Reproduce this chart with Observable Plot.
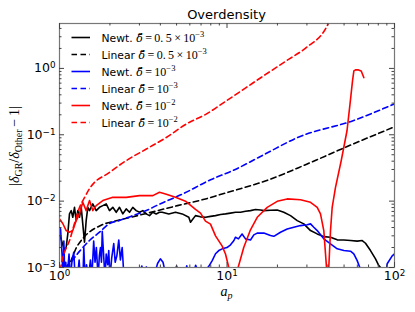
<!DOCTYPE html>
<html><head><meta charset="utf-8">
<script src="https://cdn.jsdelivr.net/npm/d3@7"></script>
<script src="https://cdn.jsdelivr.net/npm/@observablehq/plot@0.6"></script>
<style>body{margin:0;background:#fff} svg{display:block}</style>
</head><body><div id="chart"></div>
<script>
// ---- data ----
const newtBlackA = [1.000,1.024,1.071,1.096,1.121,1.147,1.175,1.200,1.229,1.258,1.286,1.316,1.348,1.377,1.410,1.443,1.476,1.511,1.580,1.656,1.733,1.814,1.900,1.989,2.081,2.181,2.282,2.388,2.502,2.618,2.739,2.870,3.004,3.144,3.293,3.445,3.606,3.778,3.954,4.104,4.494,4.926,5.401,5.915,6.055,6.485,6.948,7.440,7.973,8.539,9.147,9.795,10.49,11.24,12.04,12.90,13.81,14.80,15.85,16.59,18.18,19.94,21.83,23.94,26.25,28.74,31.52,34.56,37.84,41.49,45.50,49.82,54.62,59.89,64.16,67.13,71.90,77.02,80.60,82.49,84.5,86];
const newtBlackY = [3.2e-3,2.65e-3,1.8e-3,2.02e-3,3.21e-3,6.42e-3,7.2e-3,5.71e-3,8.07e-3,5.09e-3,7.2e-3,5.71e-3,8.07e-3,4.54e-3,2.4e-3,5.09e-3,8.07e-3,7.2e-3,9.08e-3,7.2e-3,8.07e-3,8.56e-3,9.08e-3,7.2e-3,8.07e-3,6.79e-3,8.07e-3,6.42e-3,7.63e-3,6.79e-3,8.07e-3,7.2e-3,6.79e-3,7.2e-3,6.42e-3,6.05e-3,6.79e-3,6.42e-3,6.79e-3,6.79e-3,6.42e-3,6.79e-3,6.42e-3,5.71e-3,4.8e-3,6.05e-3,5.8e-3,5.71e-3,5.9e-3,6.05e-3,6.3e-3,6.42e-3,6.6e-3,6.79e-3,6.79e-3,7.03e-3,7.2e-3,7.5e-3,7.37e-3,7.2e-3,7.3e-3,7.37e-3,6.79e-3,6.05e-3,5.09e-3,4.54e-3,3.6e-3,3.21e-3,2.92e-3,2.86e-3,2.61e-3,2.6e-3,2.55e-3,2.5e-3,2.55e-3,2.32e-3,1.8e-3,1.35e-3,1.07e-3,1.0e-3,9e-4,8e-4];

const linBlackA = [1.07,1.10,1.16,1.25,1.40,1.76,2.22,2.92,3.85,5.06,7.44,9.35,11.3,17.1,29.9,50,100];
const linBlackY = [7e-4,1.0e-3,1.2e-3,1.9e-3,2.86e-3,4.3e-3,5.1e-3,6.05e-3,7.2e-3,8.55e-3,0.0108,0.0128,0.0147,0.0203,0.036,0.0635,0.132];

const newtBlueA = [1.000,1.015,1.035,1.05,1.062,1.075,1.09,1.11,1.14,1.16,1.19,1.217,1.24,1.28,1.31,1.33,1.38,1.397,1.42,1.45,1.49,1.53,1.56,1.60,1.63,1.66,1.70,1.73,1.756,1.78,1.80,1.838,1.87,1.90,1.94,1.968,2.00,2.05,2.108,2.15,2.20,2.259,2.31,2.367,2.42,2.6,3.0,3.1,3.2,3.3,3.4,3.7,3.85,4.0,4.15,4.3,4.8,5.0,5.2,5.6,5.75,5.9,6.3,6.5,6.7,7.44,7.8,8.16,8.54,8.93,9.36,10.0,10.5,11.0,11.24,11.7,12.3,12.9,13.81,14.46,15.15,16.59,18.18,19.03,20.86,22.88,25.05,27.47,30.11,31.52,32.98,34.56,37.84,41.49,45.50,49.82,54.62,57.15,59.89,62.06,63.5,88,90.46,96.9,100];
const newtBlueY = [4.0e-3,3.8e-3,1.6e-3,7e-4,2.5e-3,7e-4,1.2e-3,7e-4,1.6e-3,7e-4,1.3e-3,1.7e-3,7e-4,7e-4,1.3e-3,7e-4,7e-4,2.0e-3,7e-4,1.1e-3,7e-4,1.3e-3,7e-4,2.5e-3,1.2e-3,2.0e-3,7e-4,1.5e-3,2.0e-3,1.2e-3,3.5e-3,1.4e-3,7e-4,1.6e-3,1.1e-3,1.8e-3,7e-4,1.4e-3,2.3e-3,1.2e-3,1.5e-3,2.6e-3,1.3e-3,2.0e-3,8e-4,7e-4,8e-4,1.05e-3,8e-4,1.02e-3,8e-4,8e-4,1.15e-3,1.35e-3,1.2e-3,8e-4,8e-4,1.05e-3,8e-4,8e-4,1.06e-3,8e-4,8e-4,1.08e-3,9e-4,9e-4,1.05e-3,1.27e-3,1.61e-3,1.8e-3,1.91e-3,2.0e-3,2.2e-3,2.55e-3,2.86e-3,2.7e-3,3.2e-3,2.7e-3,2.6e-3,3.1e-3,3.3e-3,3.3e-3,3.03e-3,2.95e-3,3.4e-3,3.8e-3,4.04e-3,4.28e-3,4.4e-3,4.54e-3,4.04e-3,3.6e-3,2.7e-3,2.27e-3,1.91e-3,1.8e-3,1.76e-3,1.61e-3,1.27e-3,1.0e-3,7e-4,7e-4,1.14e-3,1.5e-3,1.6e-3];

const linBlueA = [1.07,1.12,1.20,1.316,1.51,1.733,1.99,2.28,2.73,3.3,3.79,5.5,7.98,10.8,16.9,26.4,56.5,100];
const linBlueY = [7e-4,1.0e-3,1.3e-3,1.75e-3,2.55e-3,3.4e-3,4.6e-3,5.1e-3,6.05e-3,7.2e-3,8.56e-3,0.013,0.021,0.0288,0.0513,0.091,0.163,0.292];

const newtRedA = [1.000,1.046,1.096,1.147,1.200,1.258,1.316,1.377,1.443,1.511,1.580,1.656,1.814,2.081,2.502,3.004,3.606,3.954,4.295,4.926,5.652,6.485,6.95,7.440,7.97,8.539,9.362,9.795,10.25,10.8,11.3,11.65,12.6,13.81,15.15,17.38,19.94,22.88,27.47,31.52,34.56,36.15,37.84,39.26,39.8,40.53,41.49,42.46,44.44,48.06,52.05,54.24,56.15,57.2,58.5,60.96,63.27,65.57];
const newtRedY = [5.4e-3,4.6e-3,3.6e-3,3.4e-3,3.6e-3,5.09e-3,6.42e-3,9.6e-3,7.2e-3,0.0102,7.2e-3,8.56e-3,0.0102,0.0114,0.0114,0.0121,0.0121,0.0136,0.0128,0.0114,0.0100,7.5e-3,6.6e-3,5.0e-3,4.5e-3,3.0e-3,2.1e-3,1.6e-3,1.0e-3,5e-4,5e-4,1.0e-3,2.02e-3,3.7e-3,5.71e-3,8.07e-3,9.93e-3,0.0108,0.0105,9.59e-3,8.07e-3,6.42e-3,3.6e-3,1.01e-3,5e-4,1.01e-3,3.6e-3,8.07e-3,0.0161,0.0406,0.115,0.290,0.649,0.916,0.95,0.95,0.916,0.728];

const linRedA = [1.01,1.03,1.07,1.148,1.229,1.316,1.41,1.51,1.99,2.5,3.3,4.34,5.71,7.51,9.9,13.0,17.1,22.6,29.7,39.1,41.5];
const linRedY = [9e-4,1.19e-3,1.68e-3,2.55e-3,4.6e-3,8.0e-3,0.0113,0.0154,0.0271,0.0407,0.061,0.091,0.145,0.205,0.324,0.514,0.818,1.30,2.06,4.11,5.6];

// tick positions and labels
const xMajor = [1, 10, 100];
const xMinor = [2,3,4,5,6,7,8,9,20,30,40,50,60,70,80,90];
const yMajor = [1e-3, 1e-2, 1e-1, 1];
const yMinor = [2e-3,3e-3,4e-3,5e-3,6e-3,7e-3,8e-3,9e-3,2e-2,3e-2,4e-2,5e-2,6e-2,7e-2,8e-2,9e-2,0.2,0.3,0.4,0.5,0.6,0.7,0.8,0.9,2,3,4];
const xTickLabels = ["10^0","10^1","10^2"];
const yTickLabels = ["10^\u22123","10^\u22122","10^\u22121","10^0"];

const legendPrefix = ["Newt.","Linear","Newt.","Linear","Newt.","Linear"];
const legendValue = ["0.\u20095\u2009\u00d7\u200910","0.\u20095\u2009\u00d7\u200910","10","10","10","10"];
const legendExp = ["\u22123","\u22123","\u22123","\u22123","\u22122","\u22122"];

// ---- build ----
const series = [
  {a:newtBlackA, v:newtBlackY, color:"#000000", dash:null, curve:"linear"},
  {a:linBlackA,  v:linBlackY,  color:"#000000", dash:"5.5,3.5", curve:"monotone-x"},
  {a:newtBlueA,  v:newtBlueY,  color:"#0000ff", dash:null, curve:"linear"},
  {a:linBlueA,   v:linBlueY,   color:"#0000ff", dash:"5.5,3.5", curve:"monotone-x"},
  {a:newtRedA,   v:newtRedY,   color:"#ff0000", dash:null, curve:"linear"},
  {a:linRedA,    v:linRedY,    color:"#ff0000", dash:"5.5,3.5", curve:"monotone-x"}
];

const W = 415, H = 312, mL = 59, mR = 21, mT = 23, mB = 45;
const fw = W - mL - mR, fh = H - mT - mB;
const majorLen = 5, minorLen = 2.5;
const tickColor = "#444";

const lineMarks = series.map(s => Plot.line(s.a.map((a, i) => ({a, v: s.v[i]})), {
  x: "a", y: "v", stroke: s.color, strokeWidth: 1.6,
  strokeDasharray: s.dash, curve: s.curve, clip: true
}));

const tickMarks = [
  Plot.tickX(xMajor, {x: d => d, insetTop: fh - majorLen, stroke: tickColor}),
  Plot.tickX(xMajor, {x: d => d, insetBottom: fh - majorLen, stroke: tickColor}),
  Plot.tickX(xMinor, {x: d => d, insetTop: fh - minorLen, stroke: tickColor}),
  Plot.tickX(xMinor, {x: d => d, insetBottom: fh - minorLen, stroke: tickColor}),
  Plot.tickY(yMajor, {y: d => d, insetRight: fw - majorLen, stroke: tickColor}),
  Plot.tickY(yMajor, {y: d => d, insetLeft: fw - majorLen, stroke: tickColor}),
  Plot.tickY(yMinor, {y: d => d, insetRight: fw - minorLen, stroke: tickColor}),
  Plot.tickY(yMinor, {y: d => d, insetLeft: fw - minorLen, stroke: tickColor})
];

const svg = Plot.plot({
  width: W, height: H,
  marginLeft: mL, marginRight: mR, marginTop: mT, marginBottom: mB,
  x: {type: "log", domain: [1, 100]},
  y: {type: "log", domain: [1e-3, 4.75]},
  style: {background: "#ffffff", fontFamily: "DejaVu Sans", color: "#000"},
  marks: [
    ...lineMarks,
    Plot.frame({stroke: "#777", strokeWidth: 1.2}),
    ...tickMarks,
    Plot.axisX(xMajor, {tickSize: 0, tickPadding: 4, fontSize: 12.5, label: null,
      tickFormat: d => xTickLabels[xMajor.indexOf(d)]}),
    Plot.axisY(yMajor, {tickSize: 0, tickPadding: 4, fontSize: 12.5, label: null,
      tickFormat: d => yTickLabels[yMajor.indexOf(d)]})
  ]
});
document.getElementById("chart").appendChild(svg);

// superscripts on tick labels
svg.querySelectorAll('[aria-label="x-axis tick label"] text, [aria-label="y-axis tick label"] text').forEach(t => {
  const s = t.textContent;
  if (!s.includes("^")) return;
  const [b, e] = s.split("^");
  t.textContent = b;
  const ts = document.createElementNS("http://www.w3.org/2000/svg", "tspan");
  ts.setAttribute("dy", "-0.48em");
  ts.setAttribute("font-size", "8.8");
  ts.textContent = e;
  t.appendChild(ts);
});

const g = d3.select(svg).append("g").attr("text-anchor", "start");
const cx = mL + fw / 2;

// title
g.append("text").attr("x", cx).attr("y", 19).attr("text-anchor", "middle")
  .attr("font-family", "DejaVu Sans").attr("font-size", 13).text("Overdensity");

// x label
const xl = g.append("text").attr("x", cx).attr("y", 296).attr("text-anchor", "middle")
  .attr("font-family", "Liberation Serif").attr("font-size", 14);
xl.append("tspan").attr("font-style", "italic").text("a");
xl.append("tspan").attr("font-style", "italic").attr("font-size", 10).attr("dy", 3).text("p");

// y label
const yl = g.append("text").attr("transform", "translate(19,146) rotate(-90)")
  .attr("text-anchor", "middle").attr("font-family", "Liberation Serif").attr("font-size", 14);
yl.append("tspan").text("|");
yl.append("tspan").attr("font-style", "italic").text("\u03b4");
yl.append("tspan").attr("font-size", 10).attr("dy", 3).text("GR");
yl.append("tspan").attr("dy", -3).text("/");
yl.append("tspan").attr("font-style", "italic").text("\u03b4");
yl.append("tspan").attr("font-size", 10).attr("dy", 3).text("Other");
yl.append("tspan").attr("dy", -3).text("\u2009\u2212\u20091|");

// legend
const rowY0 = 37.5, rowStep = 17;
series.forEach((s, i) => {
  const y = rowY0 + i * rowStep;
  g.append("line").attr("x1", 71.5).attr("x2", 90).attr("y1", y).attr("y2", y)
    .attr("stroke", s.color).attr("stroke-width", 1.6)
    .attr("stroke-dasharray", s.dash ? "5.5,3.5" : null);
  const t = g.append("text").attr("x", 101.5).attr("y", y + 4).attr("text-anchor", "start")
    .attr("font-family", "DejaVu Sans").attr("font-size", 10.8);
  t.append("tspan").text(legendPrefix[i] + " ");
  t.append("tspan").attr("font-family", "DejaVu Serif").attr("font-size", 11)
    .attr("font-style", "italic").text("\u03b4\u0304");
  t.append("tspan").attr("font-family", "Liberation Serif").attr("font-size", 12)
    .text("\u2009=\u2009" + legendValue[i]);
  t.append("tspan").attr("font-family", "Liberation Serif").attr("font-size", 8.5)
    .attr("dy", -4.5).text(legendExp[i]);
});
</script>
</body></html>
